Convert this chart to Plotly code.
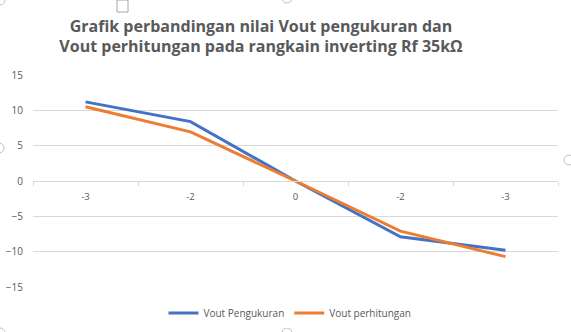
import plotly.graph_objects as go

categories = ["-3", "-2", "0", "-2", "-3"]
vout_pengukuran = [11.2, 8.4, 0.0, -7.9, -9.8]
vout_perhitungan = [10.5, 6.95, 0.0, -7.1, -10.7]
y_ticks = [-15, -10, -5, 0, 5, 10, 15]

W, H = 571, 332
ml, mr, mt, mb = 33, 13, 75, 45

xpos = list(range(len(categories)))
fig = go.Figure()
fig.add_trace(go.Scatter(x=xpos, y=vout_pengukuran, mode="lines", name="Vout Pengukuran",
                         line=dict(color="#4472C4", width=3)))
fig.add_trace(go.Scatter(x=xpos, y=vout_perhitungan, mode="lines", name="Vout perhitungan",
                         line=dict(color="#ED7D31", width=3)))

fig.update_layout(
    width=W, height=H,
    margin=dict(l=ml, r=mr, t=mt, b=mb, autoexpand=False),
    paper_bgcolor="white", plot_bgcolor="white",
    font=dict(family="Open Sans, Noto Sans, sans-serif", color="#595959", size=9),
    title=dict(text="<b>Grafik perbandingan nilai Vout pengukuran dan<br>Vout perhitungan pada rangkain inverting Rf 35kΩ</b>",
               x=261 / W, xanchor="center", y=0.905, yanchor="bottom",
               font=dict(family="Open Sans, sans-serif", size=16, color="#595959")),
    showlegend=True,
    legend=dict(orientation="h", x=290 / W, xanchor="center", xref="container",
                y=(H - 313) / H, yanchor="middle", yref="container",
                font=dict(size=10, color="#595959"), itemwidth=30, tracegroupgap=0),
    xaxis=dict(range=[-0.5, len(categories) - 0.5], tickvals=xpos, ticktext=categories,
               showgrid=False, zeroline=False, showline=True, linecolor="#D9D9D9", linewidth=1,
               anchor="free", position=0.5, ticks="", ticklabelstandoff=7,
               tickfont=dict(size=9.5, color="#595959"),
               minor=dict(tickvals=[i - 0.5 for i in range(len(categories) + 1)],
                          ticks="outside", ticklen=4, tickcolor="#D9D9D9", showgrid=False)),
    yaxis=dict(range=[-15, 15], tickvals=y_ticks, showgrid=True, gridcolor="#D9D9D9",
               gridwidth=1, zeroline=False, showline=False, ticks="",
               tickfont=dict(size=10, color="#595959"), ticklabelstandoff=9),
)

# faint selection handles visible in the screenshot
handle = dict(type="circle", xref="paper", yref="paper", line=dict(color="#BFBFBF", width=1),
              fillcolor="white", layer="above")
def px(x, y):
    return ((x - ml) / (W - ml - mr), (H - mb - y) / (H - mt - mb))
for cx, cy in [(0, 0), (287, -2), (-1, 148), (569, 160), (287, 333), (0, 333)]:
    x0, y0 = px(cx - 5, cy + 5)
    x1, y1 = px(cx + 5, cy - 5)
    fig.add_shape(**handle, x0=x0, y0=y0, x1=x1, y1=y1)
sx0, sy0 = px(117, 12)
sx1, sy1 = px(128, 0)
fig.add_shape(type="rect", xref="paper", yref="paper", x0=sx0, y0=sy0, x1=sx1, y1=sy1,
              line=dict(color="#A6A6A6", width=1), fillcolor="white")

fig.write_html("out.html")
